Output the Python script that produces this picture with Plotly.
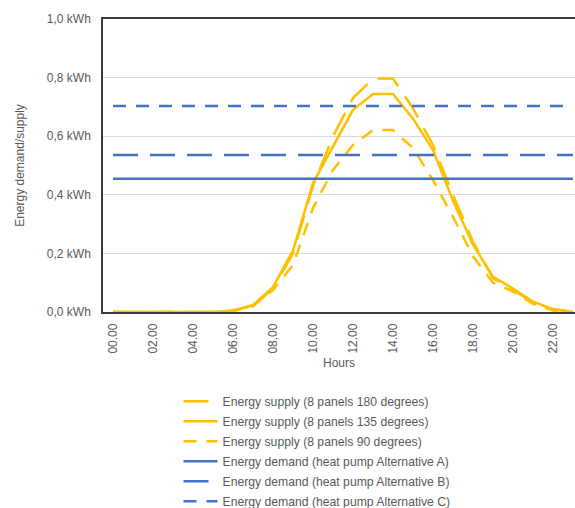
import plotly.graph_objects as go

# Hour-of-day categories and tick labels
hours = ["00.00", "01.00", "02.00", "03.00", "04.00", "05.00", "06.00", "07.00",
         "08.00", "09.00", "10.00", "11.00", "12.00", "13.00", "14.00", "15.00",
         "16.00", "17.00", "18.00", "19.00", "20.00", "21.00", "22.00", "23.00"]
tick_labels = ["00.00", "02.00", "04.00", "06.00", "08.00", "10.00",
               "12.00", "14.00", "16.00", "18.00", "20.00", "22.00"]

# PV supply per hour (kWh)
supply_180 = [0, 0, 0, 0, 0, 0, 0.005, 0.02, 0.08, 0.2, 0.43, 0.60,
              0.73, 0.797, 0.797, 0.695, 0.57, 0.40, 0.24, 0.115, 0.075, 0.033, 0.01, 0]
supply_135 = [0, 0, 0, 0, 0, 0, 0.005, 0.024, 0.085, 0.21, 0.44, 0.565,
              0.69, 0.744, 0.744, 0.66, 0.553, 0.38, 0.23, 0.12, 0.08, 0.035, 0.01, 0]
supply_90 = [0, 0, 0, 0, 0, 0, 0.003, 0.02, 0.075, 0.16, 0.355, 0.485,
             0.57, 0.621, 0.621, 0.56, 0.45, 0.325, 0.19, 0.10, 0.07, 0.028, 0.005, 0]

# Heat pump demand per hour (kWh)
demand_A = [0.455, 0.455, 0.455, 0.455, 0.455, 0.455, 0.455, 0.455, 0.455, 0.455, 0.455, 0.455,
            0.455, 0.455, 0.455, 0.455, 0.455, 0.455, 0.455, 0.455, 0.455, 0.455, 0.455, 0.455]
demand_B = [0.536, 0.536, 0.536, 0.536, 0.536, 0.536, 0.536, 0.536, 0.536, 0.536, 0.536, 0.536,
            0.536, 0.536, 0.536, 0.536, 0.536, 0.536, 0.536, 0.536, 0.536, 0.536, 0.536, 0.536]
demand_C = [0.703, 0.703, 0.703, 0.703, 0.703, 0.703, 0.703, 0.703, 0.703, 0.703, 0.703, 0.703,
            0.703, 0.703, 0.703, 0.703, 0.703, 0.703, 0.703, 0.703, 0.703, 0.703, 0.703, 0.703]

YELLOW = "#FFC000"
BLUE = "#4472C4"
GREY = "#595959"
LONG_DASH = "25px,12px"
SHORT_DASH = "13px,10px"

series = [
    ("Energy supply (8 panels 180 degrees)", supply_180, YELLOW, LONG_DASH),
    ("Energy supply (8 panels 135 degrees)", supply_135, YELLOW, "solid"),
    ("Energy supply (8 panels 90 degrees)", supply_90, YELLOW, SHORT_DASH),
    ("Energy demand (heat pump Alternative A)", demand_A, BLUE, "solid"),
    ("Energy demand (heat pump Alternative B)", demand_B, BLUE, LONG_DASH),
    ("Energy demand (heat pump Alternative C)", demand_C, BLUE, SHORT_DASH),
]

x_idx = list(range(len(hours)))

fig = go.Figure()
for i, (name, values, color, dash) in enumerate(series):
    fig.add_trace(go.Scatter(
        x=x_idx, y=values, name=name, mode="lines", legendgroup=f"g{i}",
        line=dict(color=color, width=2.5, dash=dash),
    ))

fig.update_layout(
    width=575, height=508,
    margin=dict(l=103, r=0, t=19, b=196, autoexpand=False),
    paper_bgcolor="white", plot_bgcolor="white",
    separators=", ",
    font=dict(family="Liberation Sans, Arial, sans-serif", size=12, color=GREY),
    showlegend=True,
    legend=dict(
        orientation="v", x=0.16, xanchor="left", y=-0.255, yanchor="top",
        font=dict(size=12.2, color=GREY), bgcolor="rgba(0,0,0,0)",
        tracegroupgap=1, itemwidth=34,
    ),
)

fig.update_xaxes(
    range=[-0.5, 23.1],
    tickmode="array", tickvals=[hours.index(t) for t in tick_labels], ticktext=tick_labels,
    tickangle=-90, ticks="", ticklabelstandoff=5,
    showgrid=False, zeroline=False,
    showline=True, linecolor="#3a3a3a", linewidth=1.5, mirror=True,
    title=dict(text="Hours", font=dict(size=12, color=GREY), standoff=6),
)
fig.update_yaxes(
    range=[0, 1.0], dtick=0.2, tickformat=".1f", ticksuffix=" kWh",
    ticks="", ticklabelstandoff=8,
    showgrid=True, gridcolor="#D9D9D9", gridwidth=1, zeroline=False,
    showline=True, linecolor="#3a3a3a", linewidth=1.5,
    title=dict(text="Energy demand/supply", font=dict(size=12, color=GREY), standoff=20),
)

fig.write_html("out.html")
